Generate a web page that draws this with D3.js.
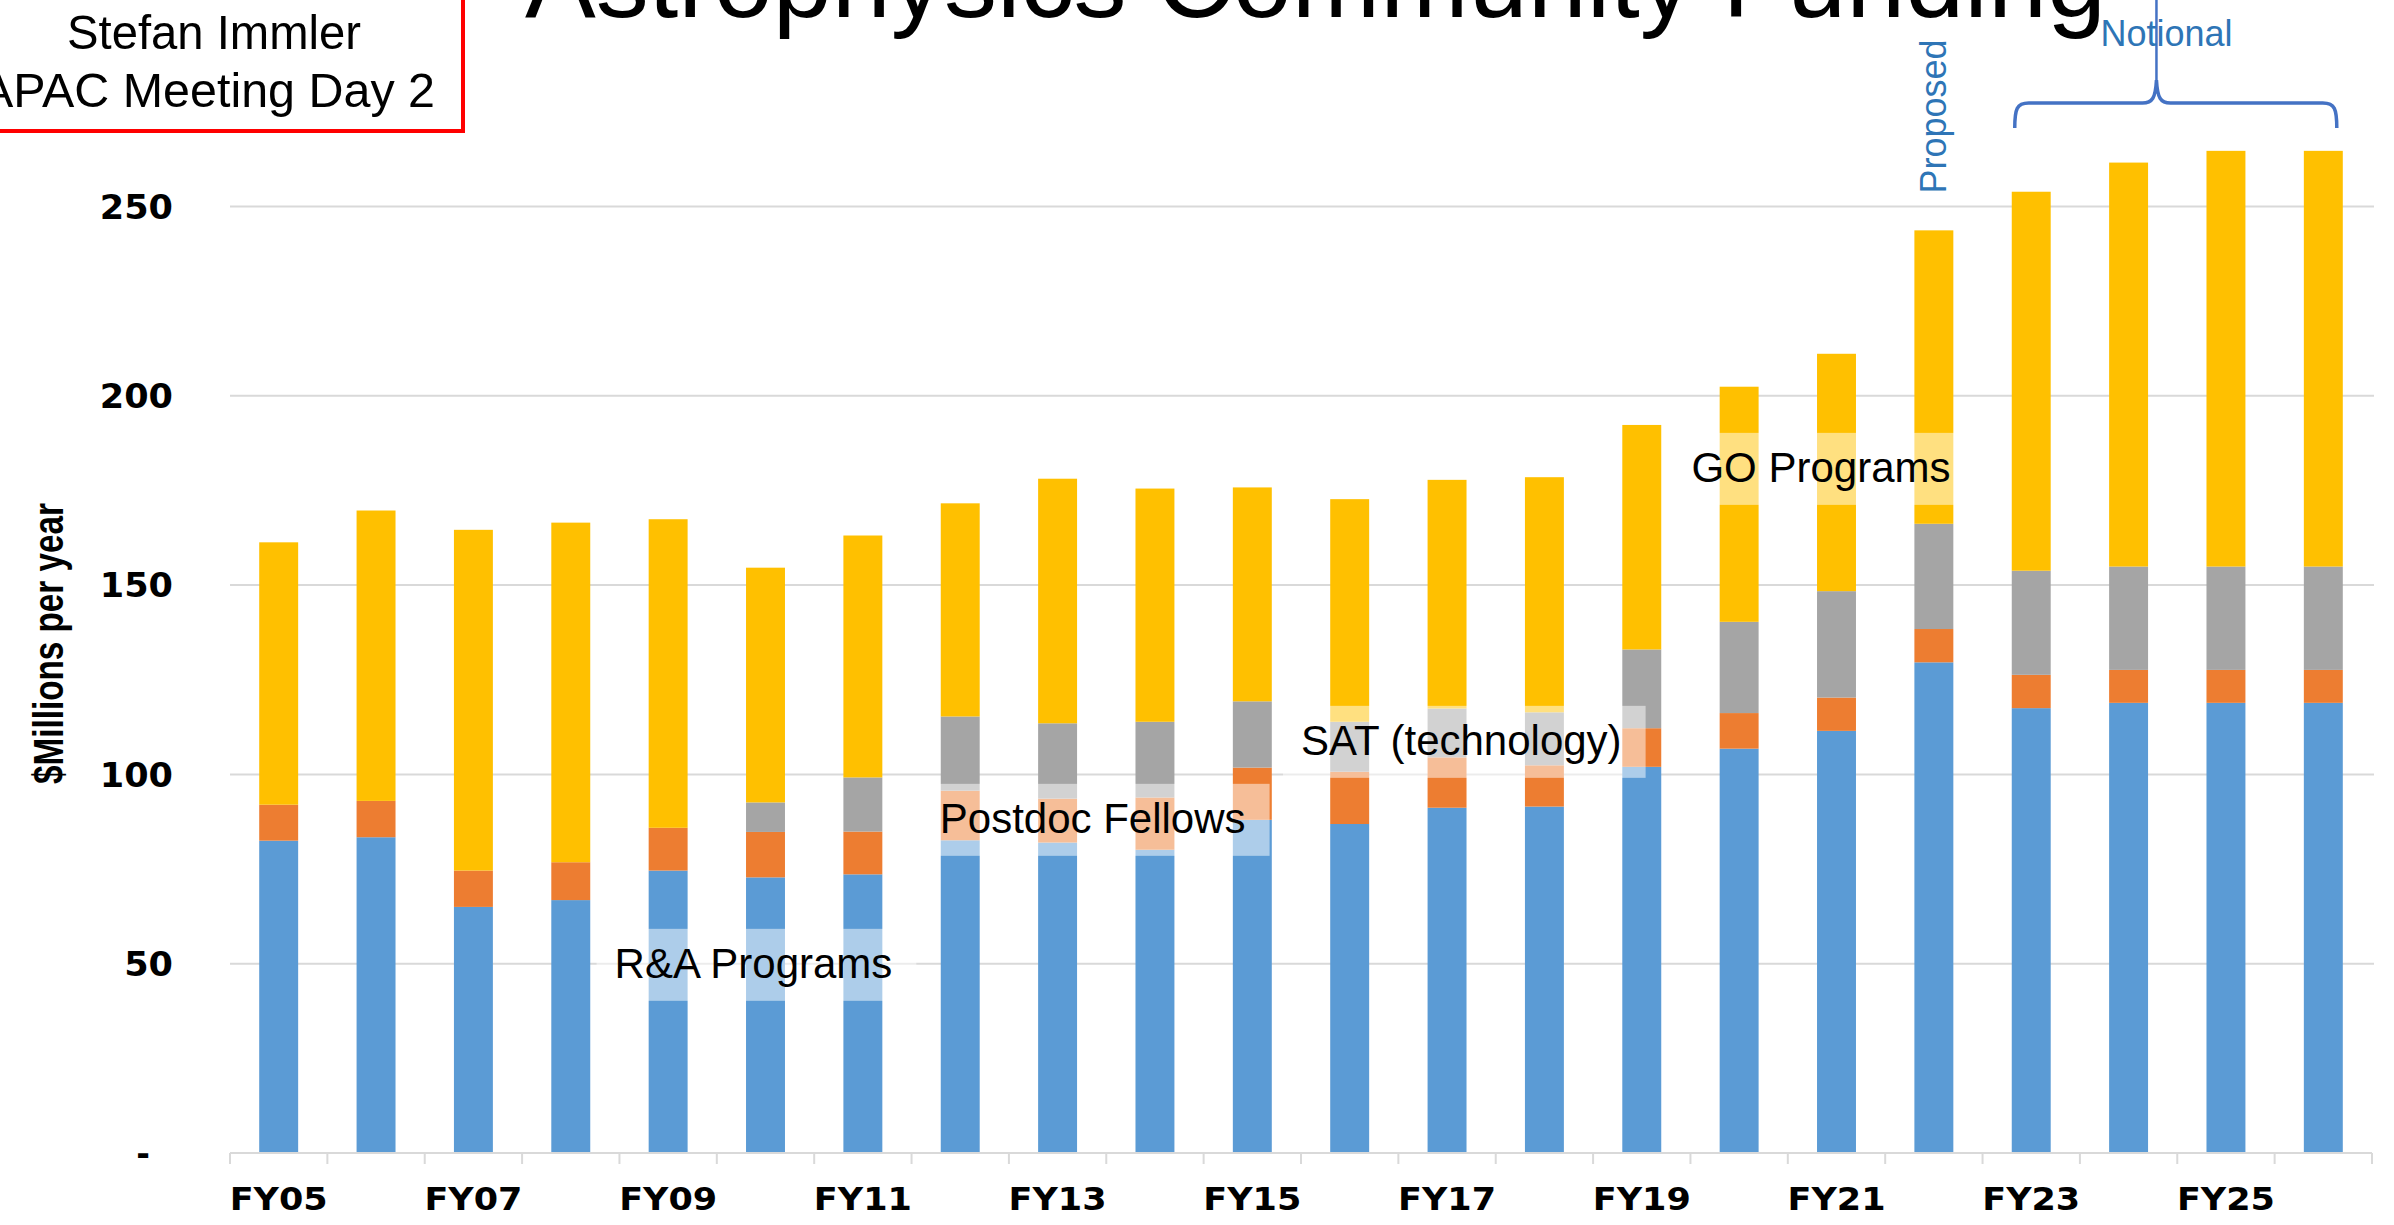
<!DOCTYPE html>
<html>
<head>
<meta charset="utf-8">
<script src="https://cdn.jsdelivr.net/npm/d3@7"></script>
<style>
  html, body { margin: 0; padding: 0; background: #fff; overflow: hidden; }
  svg { display: block; }
</style>
</head>
<body>
<svg id="chart" width="2394" height="1225"></svg>
<script>
// Fiscal years on the x axis
const categories = ["FY05","FY06","FY07","FY08","FY09","FY10","FY11","FY12","FY13","FY14","FY15",
                    "FY16","FY17","FY18","FY19","FY20","FY21","FY22","FY23","FY24","FY25","FY26"];

// $M per year, by program line (stacked bottom to top)
const raPrograms     = [82.5, 83.4, 65.0, 66.8, 74.6, 72.8, 73.6, 82.6, 82.0, 80.1, 88.0,
                        86.9, 91.2, 91.5, 102.0, 106.8, 111.5, 129.6, 117.5, 118.9, 118.9, 118.9];
const postdocFellows = [9.5, 9.6, 9.6, 10.0, 11.3, 12.0, 11.3, 13.1, 11.6, 13.8, 13.8,
                        13.8, 13.3, 10.9, 10.2, 9.4, 8.8, 8.8, 8.8, 8.7, 8.7, 8.7];
const satTechnology  = [0, 0, 0, 0, 0, 7.8, 14.3, 19.6, 19.9, 20.0, 17.5,
                        13.2, 12.9, 14.0, 20.8, 24.1, 28.1, 27.8, 27.5, 27.3, 27.3, 27.3];
const goPrograms     = [69.3, 76.7, 90.0, 89.7, 81.5, 62.0, 63.9, 56.3, 64.6, 61.6, 56.5,
                        58.8, 60.4, 62.1, 59.3, 62.1, 62.7, 77.5, 100.1, 106.7, 109.8, 109.8];

const seriesKeys   = ["ra", "postdoc", "sat", "go"];
const seriesNames  = ["R&A Programs", "Postdoc Fellows", "SAT (technology)", "GO Programs"];
const yTickValues  = [0, 50, 100, 150, 200, 250];
const xTickLabels  = ["FY05","FY07","FY09","FY11","FY13","FY15","FY17","FY19","FY21","FY23","FY25"];

const rows = categories.map((c, i) => ({
  cat: c, ra: raPrograms[i], postdoc: postdocFellows[i], sat: satTechnology[i], go: goPrograms[i]
}));

const colors = { ra: "#5B9BD5", postdoc: "#ED7D31", sat: "#A5A5A5", go: "#FFC000" };

const svg = d3.select("#chart");
const W = 2394, H = 1225;
const plotLeft = 230, plotRight = 2372, plotBottom = 1153, plotTop = 206.5;

const x = d3.scaleBand().domain(categories).range([plotLeft, plotRight])
  .paddingInner(0.6).paddingOuter(0.3);
const y = d3.scaleLinear().domain([0, 250]).range([plotBottom, plotTop]);
const step = x.step(), bw = x.bandwidth();
const cx = c => x(c) + bw / 2;

svg.append("rect").attr("width", W).attr("height", H).attr("fill", "#fff");

// horizontal gridlines
svg.append("g").selectAll("line")
  .data(yTickValues.filter(v => v > 0))
  .join("line")
  .attr("x1", plotLeft).attr("x2", plotRight + 2)
  .attr("y1", d => y(d)).attr("y2", d => y(d))
  .attr("stroke", "#D9D9D9").attr("stroke-width", 2);

// stacked bars
const stacked = d3.stack().keys(seriesKeys)(rows);
svg.append("g").selectAll("g")
  .data(stacked)
  .join("g")
  .attr("fill", d => colors[d.key])
  .selectAll("rect")
  .data(d => d.filter(p => p[1] - p[0] > 0))
  .join("rect")
  .attr("x", d => x(d.data.cat))
  .attr("width", bw)
  .attr("y", d => y(d[1]))
  .attr("height", d => y(d[0]) - y(d[1]));

// x axis baseline and boundary ticks
const xAxisG = svg.append("g");
xAxisG.append("line")
  .attr("x1", plotLeft).attr("x2", plotRight)
  .attr("y1", plotBottom).attr("y2", plotBottom)
  .attr("stroke", "#D9D9D9").attr("stroke-width", 2);
xAxisG.selectAll("line.tk")
  .data(d3.range(categories.length + 1))
  .join("line")
  .attr("class", "tk")
  .attr("x1", i => plotLeft + i * step).attr("x2", i => plotLeft + i * step)
  .attr("y1", plotBottom).attr("y2", plotBottom + 11)
  .attr("stroke", "#D9D9D9").attr("stroke-width", 2);

// x tick labels (every other fiscal year)
const xAxis = d3.axisBottom(x).tickValues(xTickLabels).tickSize(0).tickPadding(0);
const xl = svg.append("g").attr("transform", `translate(0,${plotBottom})`).call(xAxis);
xl.select(".domain").remove();
xl.selectAll("text")
  .attr("y", 57).attr("dy", 0)
  .attr("font-family", "DejaVu Sans, sans-serif")
  .attr("font-weight", "bold")
  .attr("font-size", 31.5)
  .attr("fill", "#000")
  .attr("textLength", 98)
  .attr("lengthAdjust", "spacingAndGlyphs");

// y tick labels
const yAxis = d3.axisLeft(y).tickValues(yTickValues).tickSize(0).tickPadding(0)
  .tickFormat(d => d === 0 ? "-" : String(d));
const yl = svg.append("g").attr("transform", "translate(173,0)").call(yAxis);
yl.select(".domain").remove();
yl.selectAll("text")
  .attr("x", d => d === 0 ? -23 : 0)
  .attr("dy", "0.36em")
  .attr("font-family", "DejaVu Sans, sans-serif")
  .attr("font-weight", "bold")
  .attr("font-size", 33)
  .attr("fill", "#000")
  .each(function(d) {
    if (d !== 0) {
      d3.select(this).attr("textLength", String(d).length * 24.4)
        .attr("lengthAdjust", "spacingAndGlyphs");
    }
  });

// y axis title
svg.append("text")
  .attr("transform", `translate(63,${(503 + 784) / 2}) rotate(-90)`)
  .attr("text-anchor", "middle")
  .attr("font-family", "Liberation Sans Narrow, Liberation Sans, Arial, sans-serif")
  .attr("font-weight", "bold")
  .attr("font-size", 42)
  .attr("textLength", 281)
  .attr("lengthAdjust", "spacingAndGlyphs")
  .attr("fill", "#000")
  .text("$Millions per year");

// in-chart series labels on translucent white boxes
const seriesLabels = [
  { name: seriesNames[0], cat: "FY09", shift: -0.55, value: 49.7 },
  { name: seriesNames[1], cat: "FY12", shift: -0.21, value: 88.0 },
  { name: seriesNames[2], cat: "FY16", shift: -0.50, value: 108.6 },
  { name: seriesNames[3], cat: "FY20", shift: -0.49, value: 180.7 }
];
const labG = svg.append("g");
seriesLabels.forEach(l => {
  const g = labG.append("g");
  const tx = cx(l.cat) + l.shift * step;
  const top = y(l.value) - 36;
  const t = g.append("text")
    .attr("x", tx).attr("y", top + 49.6)
    .attr("font-family", "Liberation Sans, Arial, sans-serif")
    .attr("font-size", 42)
    .attr("fill", "#000")
    .text(l.name);
  const tw = t.node().getComputedTextLength();
  g.insert("rect", "text")
    .attr("x", tx - 18).attr("y", top)
    .attr("width", tw + 18 + 24).attr("height", 72)
    .attr("fill", "#fff").attr("fill-opacity", 0.5);
});

// title (runs off the top edge)
svg.append("text")
  .attr("x", 525).attr("y", 17)
  .attr("font-family", "Liberation Sans, Arial, sans-serif")
  .attr("font-size", 106)
  .attr("textLength", 1581)
  .attr("lengthAdjust", "spacingAndGlyphs")
  .attr("fill", "#000")
  .text("Astrophysics Community Funding");

// presenter box, top-left
svg.append("rect")
  .attr("x", -10).attr("y", -10).attr("width", 473).attr("height", 141)
  .attr("fill", "#fff").attr("stroke", "#FF0000").attr("stroke-width", 4);
svg.append("text")
  .attr("x", 67).attr("y", 49.3)
  .attr("font-family", "Liberation Sans, Arial, sans-serif")
  .attr("font-size", 49)
  .attr("textLength", 294).attr("lengthAdjust", "spacingAndGlyphs")
  .attr("fill", "#000").text("Stefan Immler");
svg.append("text")
  .attr("x", -19).attr("y", 107.3)
  .attr("font-family", "Liberation Sans, Arial, sans-serif")
  .attr("font-size", 49)
  .attr("textLength", 454).attr("lengthAdjust", "spacingAndGlyphs")
  .attr("fill", "#000").text("APAC Meeting Day 2");

// "Proposed" marker over the budget-request year
const noteBlue = "#2E75B6";
svg.append("text")
  .attr("transform", `translate(${cx("FY22") + 12},116.5) rotate(-90)`)
  .attr("text-anchor", "middle")
  .attr("font-family", "Liberation Sans, Arial, sans-serif")
  .attr("font-size", 36)
  .attr("fill", noteBlue)
  .text("Proposed");

// "Notional" brace over the out-years
const bL = x("FY23") + 3, bR = x("FY26") + bw - 6;
const tipX = bL + 0.44 * (bR - bL);
const yBar = 103, yEnd = 128, yTip = 80;
const brace = d3.path();
brace.moveTo(bL, yEnd);
brace.bezierCurveTo(bL, yBar + 6, bL + 2, yBar, bL + 14, yBar);
brace.lineTo(tipX - 14, yBar);
brace.bezierCurveTo(tipX - 4, yBar, tipX - 1, yBar - 5, tipX, yTip);
brace.bezierCurveTo(tipX + 1, yBar - 5, tipX + 4, yBar, tipX + 14, yBar);
brace.lineTo(bR - 14, yBar);
brace.bezierCurveTo(bR - 2, yBar, bR, yBar + 6, bR, yEnd);
svg.append("path")
  .attr("d", brace.toString())
  .attr("fill", "none").attr("stroke", "#4472C4").attr("stroke-width", 3.5);
svg.append("line")
  .attr("x1", tipX).attr("x2", tipX).attr("y1", 0).attr("y2", yTip)
  .attr("stroke", "#4472C4").attr("stroke-width", 2.5);
svg.append("text")
  .attr("x", tipX + 10).attr("y", 46)
  .attr("text-anchor", "middle")
  .attr("font-family", "Liberation Sans, Arial, sans-serif")
  .attr("font-size", 36)
  .attr("fill", noteBlue)
  .text("Notional");
</script>
</body>
</html>
